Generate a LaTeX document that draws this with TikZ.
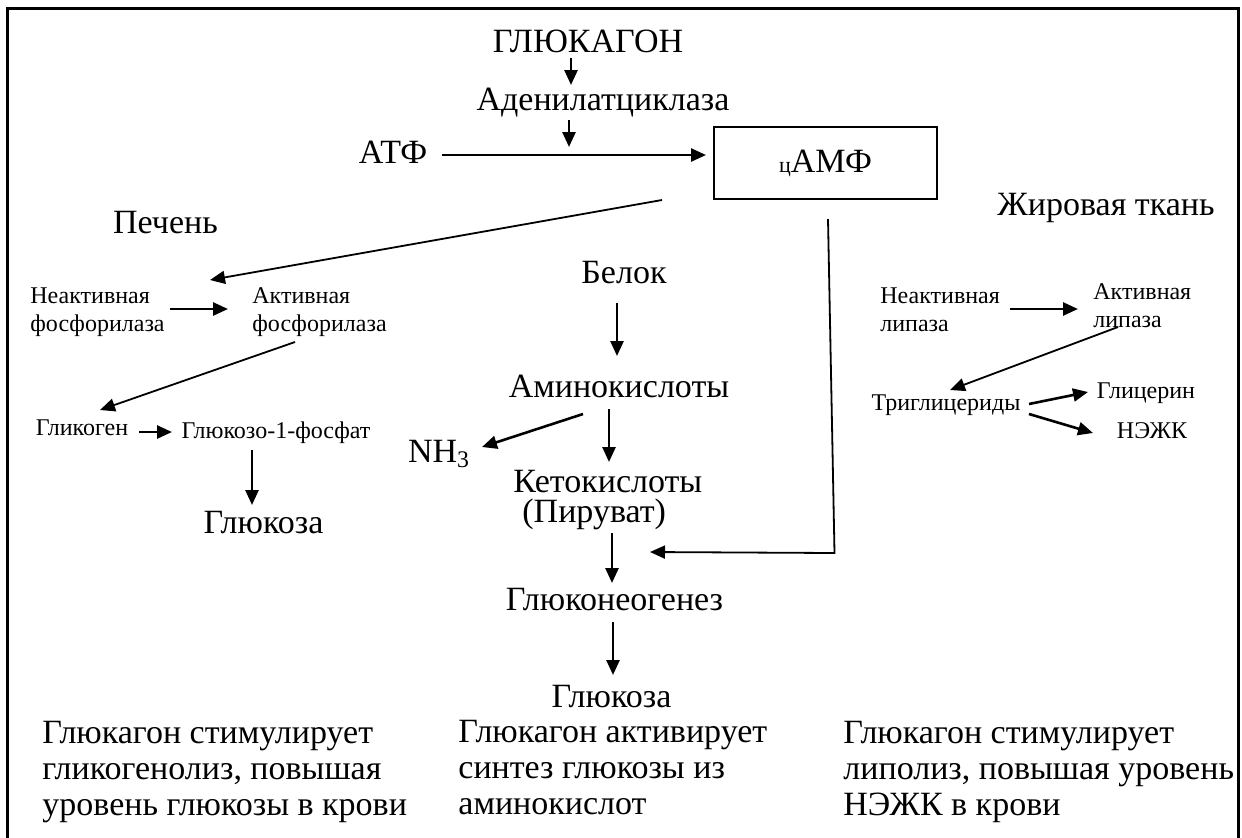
\documentclass[tikz,border=0pt]{standalone}
\usepackage{fontspec}
\setmainfont{Liberation Serif}
\usetikzlibrary{arrows.meta, calc}

\begin{document}
\begin{tikzpicture}[
    x=0.5pt, y=-0.5pt,
    every node/.style={inner sep=0pt},
    big/.style={font=\fontsize{17}{20}\selectfont, anchor=base},
    small/.style={font=\fontsize{12}{14}\selectfont, anchor=base},
    twoline/.style={font=\fontsize{12}{14}\selectfont, anchor=north west, align=left},
    para/.style={font=\fontsize{17}{18}\selectfont, anchor=north west, align=left},
    arr/.style={-{Triangle[length=7.5pt,width=6.5pt]}, line width=1.3pt},
    thinarr/.style={-{Triangle[length=7.5pt,width=6.5pt]}, line width=0.9pt}
]

\useasboundingbox (0,0) rectangle (1242,837);

% === Frame (open at the bottom) ===
\draw[line width=1.5pt] (7,840) -- (7,8) -- (1238,8) -- (1238,840);

% === Glucagon -> cAMP ===
\node[big] (glu) at (588,52) {ГЛЮКАГОН};
\node[big] (aden) at (603,110) {Аденилатциклаза};
\node[big] (atp) at (393,163) {АТФ};
\node[draw, line width=1pt, minimum width=111.5pt, minimum height=36pt,
      font=\fontsize{17}{20}\selectfont] (camp) at (825.5,163)
      {{\fontsize{11}{11}\selectfont ц}АМФ\hspace{12.5pt}};
\coordinate (join) at ($(atp.base)+(176,-8)$);

\draw[arr] ($(glu.base)+(-17,6)$) -- ($(aden.base)+(-32,-25)$);
\draw[arr] ($(aden.base)+(-34,10)$) -- ($(join)+(0,-8)$);
\draw[arr] ($(atp.base)+(49,-8)$) -- ($(camp.west)+(-7,-8)$);

% === Liver ===
\node[big] (liver) at (165.5,233) {Печень};
\node[twoline] (inphos) at (30,287) {Неактивная\\фосфорилаза};
\node[twoline] (actphos) at (252,287) {Активная\\фосфорилаза};
\node[small] (glycogen) at (82,435) {Гликоген};
\node[small] (g1p) at (276,438) {Глюкозо-1-фосфат};
\node[big] (glcL) at (263.5,533) {Глюкоза};

\draw[thinarr] ($(camp.south west)+(-51,0)$) -- ($(actphos.north west)+(-42,-7)$);
\draw[arr] ($(inphos.north west)+(140,22)$) -- ($(actphos.north west)+(-24,22)$);
\draw[thinarr] ($(actphos.north west)+(43,55)$) -- ($(glycogen.base)+(18,-25)$);
\draw[arr] ($(glycogen.base)+(57,-3)$) -- ($(g1p.base)+(-104,-6)$);
\draw[arr] ($(g1p.base)+(-24,12)$) -- ($(glcL.base)+(-11.5,-28)$);

% === Gluconeogenesis ===
\node[big] (prot) at (624,283) {Белок};
\node[big] (amino) at (619,397) {Аминокислоты};
\node[big] (nh3) at (439,462) {NH\textsubscript{3}};
\node[big, anchor=north west, align=left, font=\fontsize{17}{15}\selectfont] (keto)
    at (513,470) {Кетокислоты\\\hspace{4.5pt}(Пируват)};
\node[big] (gng) at (614.5,610) {Глюконеогенез};
\node[big] (glcM) at (611.5,707) {Глюкоза};

\draw[arr] ($(prot.base)+(-7,20)$) -- ($(amino.base)+(-2,-41)$);
\draw[arr] ($(amino.base)+(-36,17)$) -- ($(nh3.base)+(43,-15)$);
\draw[arr] ($(amino.base)+(-10,12)$) -- ($(keto.north west)+(96,-8)$);
\draw[arr] ($(keto.north west)+(99,63)$) -- ($(gng.base)+(-2.5,-27)$);
\draw[arr] ($(gng.base)+(-1.5,12)$) -- ($(glcM.base)+(1.5,-32)$);
\draw[thinarr] ($(camp.south)+(2.5,19)$) -- ($(camp.south)+(9,353)$)
    -- ($(keto.north west)+(137,82)$);

% === Adipose tissue ===
\node[big] (fat) at (1106,215) {Жировая ткань};
\node[twoline] (inlip) at (880,287) {Неактивная\\липаза};
\node[twoline] (actlip) at (1093,283) {Активная\\липаза};
\node[small] (tg) at (946,410) {Триглицериды};
\node[small] (glyc) at (1146,398) {Глицерин};
\node[small] (ffa) at (1152,438) {НЭЖК};

\draw[arr] ($(inlip.north west)+(130,22)$) -- ($(actlip.north west)+(-15,26)$);
\draw[thinarr] ($(actlip.north west)+(25,44)$) -- ($(tg.base)+(4,-20)$);
\draw[arr] ($(tg.base)+(83,-6)$) -- ($(glyc.base)+(-58,-6)$);
\draw[arr] ($(tg.base)+(83,4)$) -- ($(ffa.base)+(-59,-5)$);

% === Summaries ===
\node[para] (sumL) at (42,721) {Глюкагон стимулирует\\гликогенолиз, повышая\\уровень глюкозы в крови};
\node[para] (sumM) at (458,720) {Глюкагон активирует\\синтез глюкозы из\\аминокислот};
\node[para] (sumR) at (843,721) {Глюкагон стимулирует\\липолиз, повышая уровень\\НЭЖК в крови};

\end{tikzpicture}
\end{document}
